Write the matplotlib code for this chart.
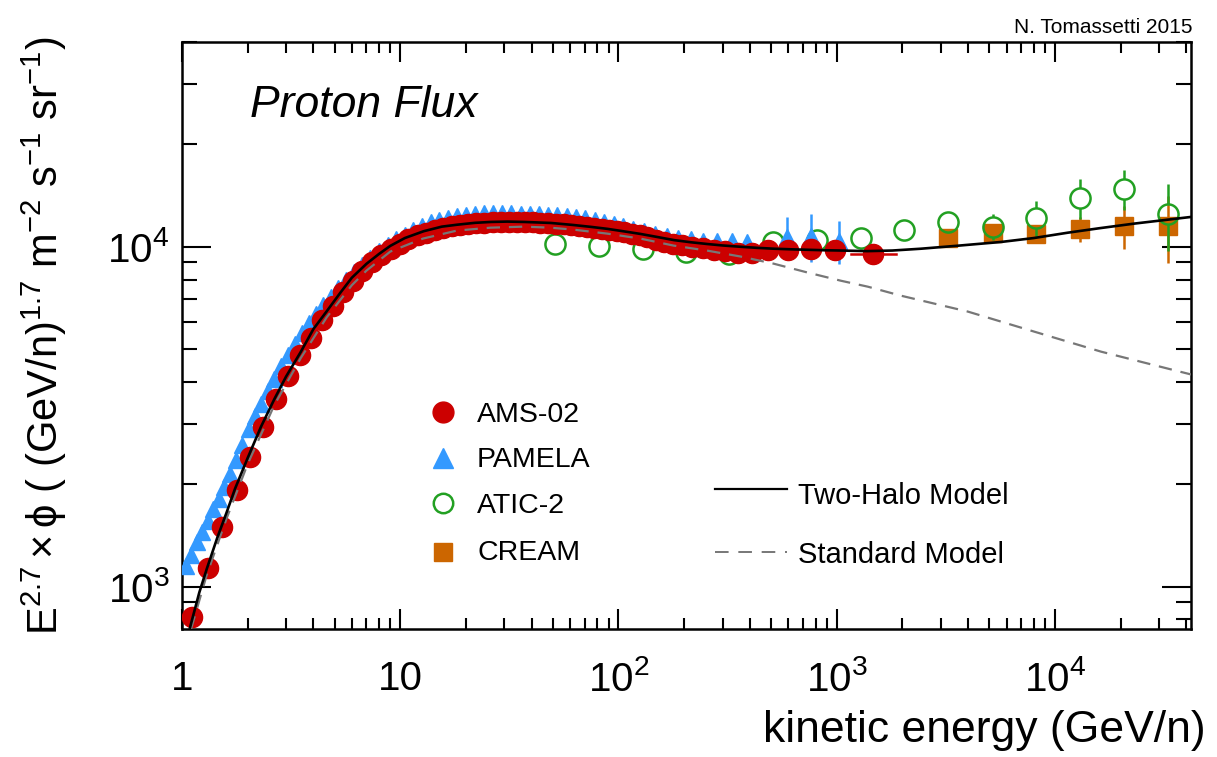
import matplotlib
matplotlib.use('Agg')
import matplotlib.pyplot as plt
import numpy as np
from matplotlib.ticker import LogLocator, FixedLocator, FixedFormatter, NullFormatter

# ---------------- data ----------------
ams_E = [1.11, 1.32, 1.52, 1.79, 2.05, 2.36, 2.70, 3.05, 3.48, 3.91, 4.40, 4.9, 5.45, 6.05, 6.7,
         7.4, 8.2, 9.05, 9.95, 10.9, 12.0, 13.1, 14.4, 15.7, 17.2, 18.7, 20.4, 22.3, 24.3, 26.5,
         28.8, 31.4, 34.1, 37.1, 40.4, 43.9, 47.6, 51.7, 56.0, 60.7, 65.8, 71.4, 77.3, 83.7, 90.6,
         98.2, 106, 115, 125, 135, 148, 162, 178, 196, 218, 243, 273, 309, 354, 410, 482, 596,
         759, 982, 1460]
ams_flux = [815, 1130, 1499, 1920, 2404, 2937, 3559, 4160, 4790, 5385, 6070, 6700, 7350, 7950, 8500,
            9000, 9450, 9850, 10200, 10500, 10800, 11000, 11200, 11350, 11480, 11580, 11650, 11720,
            11760, 11800, 11820, 11830, 11820, 11800, 11780, 11750, 11720, 11680, 11620, 11560,
            11500, 11430, 11370, 11300, 11220, 11130, 11030, 10920, 10800, 10680, 10450, 10320,
            10200, 10100, 9980, 9880, 9780, 9700, 9580, 9600, 9750, 9750, 9865, 9750, 9537]
ams_last_bin = (1160, 1866)

pam_E = [1.04, 1.10, 1.17, 1.24, 1.31, 1.39, 1.47, 1.56, 1.66, 1.77,
         1.89, 2.02, 2.16, 2.31, 2.47, 2.65, 2.84, 3.05, 3.28, 3.53,
         3.80, 4.10, 4.43, 4.80, 5.20, 5.65, 6.15, 6.70, 7.30, 8.00,
         8.75, 9.60, 10.5, 11.5, 12.6, 13.8, 15.1, 16.6, 18.2, 20.0,
         22.0, 24.2, 26.6, 29.3, 32.3, 35.6, 39.2, 43.2, 47.6, 52.5,
         57.9, 63.9, 70.5, 77.8, 85.9, 94.9, 105, 117, 131, 147,
         166, 188, 214, 245, 283, 330, 390, 590, 760, 1021]
pam_flux = [1150, 1240, 1350, 1450, 1560, 1690, 1810, 1960, 2150, 2350,
            2600, 2900, 3180, 3450, 3770, 4090, 4450, 4800, 5180, 5560,
            5950, 6330, 6730, 7130, 7550, 7980, 8400, 8830, 9250, 9680,
            10100, 10500, 10850, 11200, 11500, 11780, 12000, 12180, 12320, 12420,
            12480, 12520, 12540, 12540, 12520, 12500, 12470, 12450, 12420, 12380,
            12300, 12220, 12120, 12000, 11850, 11680, 11500, 11300, 11100, 10920,
            10760, 10620, 10500, 10420, 10380, 10360, 10350, 10700, 10750, 10420]
pam_err = [0] * 67 + [1550, 1750, 1500]

atic_E = [51, 81, 129, 203, 320, 510, 815, 1290, 2030, 3230, 5200, 8200, 13000, 20700, 33000]
atic_flux = [10170, 10068, 9865, 9634, 9537, 10309, 10435, 10627, 11220, 11845, 11450, 12170,
             13907, 14815, 12504]
atic_err = [300, 300, 300, 300, 350, 400, 500, 550, 650, 700, 1000, 1440, 1880, 2000, 2800]

cream_E = [3230, 5200, 8200, 13000, 20700, 33000]
cream_flux = [10590, 10990, 10880, 11260, 11530, 11530]
cream_err = [0, 0, 0, 960, 1670, 2600]

twohalo_E = [1.088, 1.2, 1.3, 1.45, 1.6, 1.75, 2.0, 2.3, 2.65, 3.0, 3.5, 4.0, 4.6, 5.3, 6.0, 7.0,
             8.0, 9.0, 10.5, 12.8, 15.5, 18.2, 22, 26, 31, 37, 44, 49, 62, 75, 89, 105, 126, 150,
             180, 215, 255, 300, 363, 430, 516, 620, 734, 870, 1043, 1380, 1800, 2430, 3500,
             5650, 8000, 11440, 16000, 23110, 32000, 42070]
twohalo_flux = [757, 960, 1129, 1390, 1650, 1940, 2390, 2950, 3560, 4150, 4900, 5720, 6450, 7300,
                8100, 8900, 9520, 10050, 10600, 11100, 11450, 11600, 11750, 11820, 11850, 11820,
                11770, 11740, 11580, 11430, 11280, 11100, 10900, 10680, 10450, 10300, 10180,
                10080, 9990, 9920, 9860, 9820, 9790, 9760, 9740, 9700, 9740, 9860, 10050, 10320,
                10600, 10990, 11330, 11690, 11980, 12230]

standard_E = [1.1, 1.3, 1.6, 2.0, 2.65, 3.5, 4.6, 6.0, 7.0, 9.0, 12.7, 18.2, 25.9, 36.7, 48.7,
              62.2, 89, 126, 179, 256, 363, 514, 736, 1043, 1387, 1966, 3990, 8016, 16250,
              32970, 42070]
standard_flux = [750, 1085, 1585, 2295, 3420, 4700, 6190, 7700, 8500, 9670, 10560, 11150, 11370,
                 11450, 11370, 11220, 10920, 10560, 10070, 9730, 9350, 8910, 8390, 7940, 7625,
                 7175, 6440, 5625, 4910, 4375, 4206]

x_ticks = [1, 10, 100, 1000, 10000]
x_tick_labels = ['1', '10', r'$10^{2}$', r'$10^{3}$', r'$10^{4}$']
y_ticks = [1000, 10000]
y_tick_labels = [r'$10^{3}$', r'$10^{4}$']
x_limits = (1, 4.2e4)
y_limits = (750, 4.0e4)

exp_labels = ['AMS-02', 'PAMELA', 'ATIC-2', 'CREAM']
model_labels = ['Two-Halo Model', 'Standard Model']

# ---------------- style ----------------
FONT = 'Liberation Sans'
plt.rcParams['font.family'] = [FONT, 'DejaVu Sans']
plt.rcParams['mathtext.fontset'] = 'custom'
plt.rcParams['mathtext.rm'] = FONT
plt.rcParams['mathtext.it'] = FONT + ':italic'
plt.rcParams['mathtext.bf'] = FONT + ':bold'
plt.rcParams['mathtext.sf'] = FONT

C_AMS = '#cc0000'
C_PAM = '#3399ff'
C_ATIC = '#22a022'
C_CREAM = '#cc6600'
C_STD = '#777777'

fig = plt.figure(figsize=(12.17, 7.57), dpi=100)
ax = fig.add_axes([182 / 1217, 1 - 629 / 757, (1191 - 182) / 1217, (629 - 42) / 757])
ax.set_xscale('log')
ax.set_yscale('log')
ax.set_xlim(*x_limits)
ax.set_ylim(*y_limits)

# CREAM
ax.errorbar(cream_E, cream_flux, yerr=cream_err, fmt='s', ms=13.5, color=C_CREAM, mec=C_CREAM,
            elinewidth=1.8, capsize=0, zorder=3)

# ATIC-2 (open circles, bar not drawn inside the marker)
r_dec = 10 / 340.0
f = 10 ** r_dec
for e, v, s in zip(atic_E, atic_flux, atic_err):
    if v + s > v * f:
        ax.plot([e, e], [v * f, v + s], color=C_ATIC, lw=1.8, zorder=4, solid_capstyle='butt')
    if v - s < v / f:
        ax.plot([e, e], [v - s, v / f], color=C_ATIC, lw=1.8, zorder=4, solid_capstyle='butt')
ax.plot(atic_E, atic_flux, 'o', ms=14.5, mfc='none', mec=C_ATIC, mew=1.8, ls='none', zorder=4)

# PAMELA
ax.errorbar(pam_E, pam_flux, yerr=pam_err, fmt='^', ms=12, color=C_PAM, mec=C_PAM,
            elinewidth=1.8, capsize=0, zorder=5)

# AMS-02
ax.plot(ams_E, ams_flux, 'o', ms=14.5, color=C_AMS, mec=C_AMS, ls='none', zorder=6)
ax.plot(list(ams_last_bin), [ams_flux[-1], ams_flux[-1]], color=C_AMS, lw=1.8, zorder=6)

# models
ax.plot(standard_E, standard_flux, color=C_STD, lw=1.6, dashes=(6, 4), zorder=7)
ax.plot(twohalo_E, twohalo_flux, color='black', lw=1.9, zorder=8)

# ticks
ax.xaxis.set_major_locator(FixedLocator(x_ticks))
ax.xaxis.set_major_formatter(FixedFormatter(x_tick_labels))
ax.xaxis.set_minor_locator(LogLocator(base=10, subs=np.arange(2, 10) * 1.0, numticks=30))
ax.xaxis.set_minor_formatter(NullFormatter())
ax.yaxis.set_major_locator(FixedLocator(y_ticks))
ax.yaxis.set_major_formatter(FixedFormatter(y_tick_labels))
ax.yaxis.set_minor_locator(LogLocator(base=10, subs=np.arange(2, 10) * 1.0, numticks=30))
ax.yaxis.set_minor_formatter(NullFormatter())

ax.tick_params(which='both', direction='in', top=True, right=True, width=1.5, colors='black')
ax.tick_params(axis='x', which='major', length=14.4, pad=22, labelsize=29)
ax.tick_params(axis='x', which='minor', length=8)
ax.tick_params(axis='y', which='major', length=21, pad=9, labelsize=29)
ax.tick_params(axis='y', which='minor', length=11)
for sp in ax.spines.values():
    sp.set_linewidth(1.8)

# texts
ax.text(0.0674, 0.8727, 'Proton Flux', transform=ax.transAxes, fontsize=32, style='italic',
        ha='left', va='baseline')
fig.text(1192 / 1217, 1 - 33.3 / 757, 'N. Tomassetti 2015', fontsize=15, ha='right', va='baseline')
fig.text(1206 / 1217, 1 - 742 / 757, 'kinetic energy (GeV/n)', fontsize=32, ha='right', va='baseline')
ylab = (r'$\mathrm{E}^{2.7}\times\mathrm{\phi}\ (\ (\mathrm{GeV/n})^{1.7}\ \mathrm{m}^{-2}\ '
        r'\mathrm{s}^{-1}\ \mathrm{sr}^{-1})$')
fig.text(44 / 1217, 1 - 336 / 757, ylab, rotation=90, fontsize=30, ha='center', va='center')

# legend (manual)
leg_marker_x = 0.2587
leg_text_x = 0.2924
leg_rows = [0.3697, 0.2913, 0.2147, 0.1312]
leg_base = [0.3532, 0.2755, 0.1971, 0.1175]
ax.plot([leg_marker_x], [leg_rows[0]], 'o', ms=15, color=C_AMS, transform=ax.transAxes, clip_on=False)
ax.plot([leg_marker_x], [leg_rows[1]], '^', ms=14, color=C_PAM, transform=ax.transAxes, clip_on=False)
ax.plot([leg_marker_x], [leg_rows[2]], 'o', ms=14, mfc='none', mec=C_ATIC, mew=1.8,
        transform=ax.transAxes, clip_on=False)
ax.plot([leg_marker_x], [leg_rows[3]], 's', ms=13, color=C_CREAM, transform=ax.transAxes, clip_on=False)
for lab, yb in zip(exp_labels, leg_base):
    ax.text(leg_text_x, yb, lab, transform=ax.transAxes, fontsize=20.5, ha='left', va='baseline')

ax.plot([0.528, 0.5996], [0.238, 0.238], color='black', lw=1.6, transform=ax.transAxes)
ax.plot([0.528, 0.5996], [0.1307, 0.1307], color=C_STD, lw=1.4, dashes=(7, 5), transform=ax.transAxes)
ax.text(0.6105, 0.2129, model_labels[0], transform=ax.transAxes, fontsize=21, ha='left', va='baseline')
ax.text(0.6105, 0.1119, model_labels[1], transform=ax.transAxes, fontsize=21, ha='left', va='baseline')

fig.savefig('out.png', dpi=100)
